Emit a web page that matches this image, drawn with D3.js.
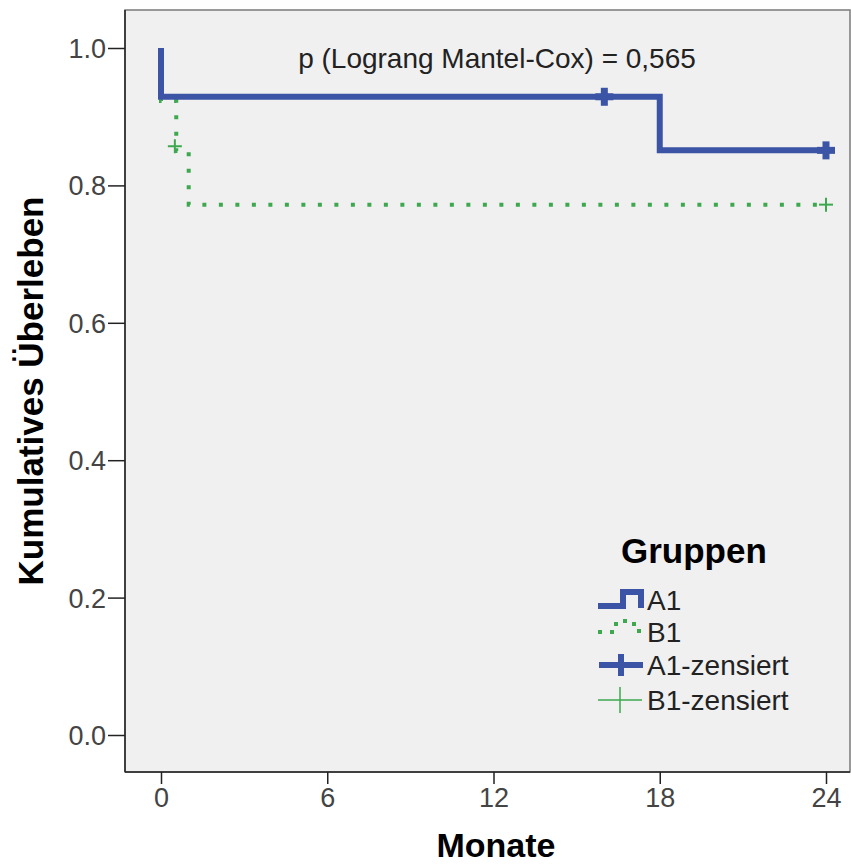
<!DOCTYPE html>
<html>
<head>
<meta charset="utf-8">
<script src="https://cdn.jsdelivr.net/npm/d3@7/dist/d3.min.js"></script>
<style>
  body { margin: 0; background: #fff; }
  svg text { font-family: "Liberation Sans", Arial, sans-serif; }
</style>
</head>
<body>
<svg id="chart" width="851" height="866"></svg>
<script>
// Kaplan-Meier step data (months, cumulative survival)
const a1Time = [0, 0, 18, 18, 24]
const a1Surv = [1.0, 0.929, 0.929, 0.851, 0.851]
const b1Time = [0, 0, 0.55, 0.55, 1.0, 1.0, 24]
const b1Surv = [1.0, 0.923, 0.923, 0.85, 0.85, 0.772, 0.772]

// censored observations
const a1CensTime = [16, 24]
const a1CensSurv = [0.929, 0.851]
const b1CensTime = [0.5, 24]
const b1CensSurv = [0.857, 0.772]

const xTicks = [0, 6, 12, 18, 24]
const yTicks = [0.0, 0.2, 0.4, 0.6, 0.8, 1.0]
const legendLabels = ['A1', 'B1', 'A1-zensiert', 'B1-zensiert']
const pText = 'p (Lograng Mantel-Cox) = 0,565'

const blue = '#3b54a5'
const green = '#3ea84f'

const svg = d3.select('#chart')
const plot = { left: 125, top: 10, right: 850, bottom: 772 }

const x = d3.scaleLinear().domain([0, 24]).range([161, 826])
const y = d3.scaleLinear().domain([0, 1]).range([735, 48])

// plot background
svg.append('rect')
  .attr('x', plot.left).attr('y', plot.top)
  .attr('width', plot.right - plot.left).attr('height', plot.bottom - plot.top)
  .attr('fill', '#f0f0f0')
  .attr('stroke', '#7a7a7a')
  .attr('stroke-width', 1.5)

// axes
const yAxis = d3.axisLeft(y).tickValues(yTicks).tickFormat(d3.format('.1f')).tickSize(17).tickSizeOuter(0)
const gy = svg.append('g').attr('transform', `translate(${plot.left},0)`).call(yAxis)
gy.select('.domain').remove()
gy.append('line').attr('x1', 0).attr('x2', 0).attr('y1', plot.top).attr('y2', plot.bottom)
  .attr('stroke', '#222').attr('stroke-width', 1.5)

const xAxis = d3.axisBottom(x).tickValues(xTicks).tickSize(12).tickSizeOuter(0)
const gx = svg.append('g').attr('transform', `translate(0,${plot.bottom})`).call(xAxis)
gx.select('.domain').remove()
gx.append('line').attr('x1', plot.left).attr('x2', plot.right).attr('y1', 0).attr('y2', 0)
  .attr('stroke', '#222').attr('stroke-width', 1.5)

svg.selectAll('.tick line').attr('stroke', '#222').attr('stroke-width', 1.5)
gy.selectAll('.tick text')
  .attr('font-size', 27).attr('fill', '#444').attr('x', -19).attr('dy', '0.35em')
gx.selectAll('.tick text')
  .attr('font-size', 27).attr('fill', '#444').attr('y', 16).attr('dy', '0.71em')

// axis titles
svg.append('text')
  .attr('x', 496).attr('y', 857)
  .attr('text-anchor', 'middle')
  .attr('font-size', 34).attr('font-weight', 'bold')
  .text('Monate')

svg.append('text')
  .attr('transform', 'translate(43,391) rotate(-90)')
  .attr('text-anchor', 'middle')
  .attr('font-size', 35).attr('font-weight', 'bold')
  .text('Kumulatives Überleben')

// p value
svg.append('text')
  .attr('x', 497).attr('y', 68)
  .attr('text-anchor', 'middle')
  .attr('font-size', 28).attr('fill', '#222')
  .text(pText)

// survival curves
const line = d3.line().x(d => x(d[0])).y(d => y(d[1]))

svg.append('path')
  .datum(d3.zip(b1Time, b1Surv))
  .attr('d', line)
  .attr('fill', 'none')
  .attr('stroke', green)
  .attr('stroke-width', 4)
  .attr('stroke-dasharray', '4,12.5')

svg.append('path')
  .datum(d3.zip(a1Time, a1Surv))
  .attr('d', line)
  .attr('fill', 'none')
  .attr('stroke', blue)
  .attr('stroke-width', 6)

// censor marks
function cross (g, cx, cy, w, h, width, color) {
  g.append('line').attr('x1', cx - w).attr('x2', cx + w).attr('y1', cy).attr('y2', cy)
    .attr('stroke', color).attr('stroke-width', width)
  g.append('line').attr('x1', cx).attr('x2', cx).attr('y1', cy - h).attr('y2', cy + h)
    .attr('stroke', color).attr('stroke-width', width)
}

const marks = svg.append('g')
d3.zip(a1CensTime, a1CensSurv).forEach(d => cross(marks, x(d[0]), y(d[1]), 9, 9, 7, blue))
d3.zip(b1CensTime, b1CensSurv).forEach(d => cross(marks, x(d[0]), y(d[1]), 7, 7, 2, green))

// legend
const lg = svg.append('g')
lg.append('text')
  .attr('x', 621).attr('y', 563)
  .attr('font-size', 35).attr('font-weight', 'bold')
  .text('Gruppen')

const rowY = [600, 632, 665, 700]
lg.append('path')
  .attr('d', `M598,${rowY[0] + 6}H623V${rowY[0] - 8}H641V${rowY[0] + 8}`)
  .attr('fill', 'none').attr('stroke', blue).attr('stroke-width', 6)
lg.append('path')
  .attr('d', `M598,${rowY[1] + 0}H616V${rowY[1] - 11}H634V${rowY[1] - 1}H644`)
  .attr('fill', 'none').attr('stroke', green).attr('stroke-width', 4)
  .attr('stroke-dasharray', '4,8')
cross(lg, 621, rowY[2], 22, 11, 6, blue)
cross(lg, 620, rowY[3], 22, 13, 1.5, green)

legendLabels.forEach((t, i) => {
  lg.append('text')
    .attr('x', 647).attr('y', rowY[i]).attr('dy', '0.36em')
    .attr('font-size', 28).attr('fill', '#222')
    .text(t)
})
</script>
</body>
</html>
